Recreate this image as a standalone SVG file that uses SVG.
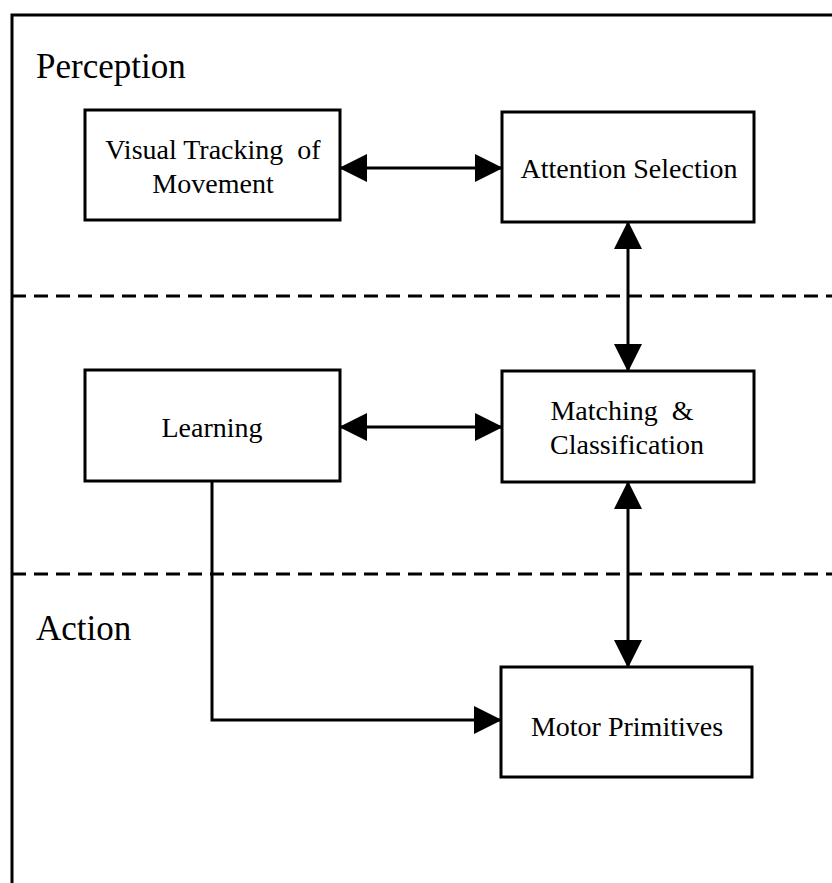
<svg xmlns="http://www.w3.org/2000/svg" width="832" height="883" viewBox="0 0 832 883">
  <style>
    .box { fill: #fff; stroke: #000; stroke-width: 3; }
    .lbl { font-family: "Liberation Serif", "Times New Roman", serif; font-size: 28px; fill: #000; text-anchor: middle; white-space: pre; }
    .zone { font-family: "Liberation Serif", "Times New Roman", serif; font-size: 35px; fill: #000; }
    .frame { fill: none; stroke: #000; stroke-width: 3; }
    .sep { fill: none; stroke: #000; stroke-width: 3; stroke-dasharray: 14 8; }
    .wire { fill: none; stroke: #000; stroke-width: 3; }
  </style>
  <defs>
    <marker id="head" markerUnits="userSpaceOnUse" markerWidth="28" markerHeight="28" refX="27" refY="14" orient="auto-start-reverse">
      <path d="M0,0 L28,14 L0,28 z" fill="#000"/>
    </marker>
  </defs>
  <rect width="832" height="883" fill="#fff"/>

  <!-- outer frame: top and left edges only -->
  <path class="frame" d="M12,883 L12,15 L832,15"/>

  <!-- layer separators -->
  <g id="separators">
    <line class="sep" x1="12" y1="296" x2="832" y2="296"/>
    <line class="sep" x1="12" y1="574" x2="832" y2="574"/>
  </g>

  <text class="zone" x="36" y="78">Perception</text>
  <text class="zone" x="36" y="640">Action</text>

  <g id="connectors">
    <line class="wire" x1="340" y1="168" x2="502" y2="168" marker-start="url(#head)" marker-end="url(#head)"/>
    <line class="wire" x1="628" y1="222" x2="628" y2="371" marker-start="url(#head)" marker-end="url(#head)"/>
    <line class="wire" x1="340" y1="427" x2="502" y2="427" marker-start="url(#head)" marker-end="url(#head)"/>
    <line class="wire" x1="628" y1="482" x2="628" y2="667" marker-start="url(#head)" marker-end="url(#head)"/>
    <path class="wire" d="M212,481 L212,720 L501,720" marker-end="url(#head)"/>
  </g>

  <g id="visual-tracking">
    <rect class="box" x="85" y="110" width="255" height="110"/>
    <text class="lbl" x="213" y="159" xml:space="preserve">Visual Tracking  of</text>
    <text class="lbl" x="213" y="193">Movement</text>
  </g>

  <g id="attention-selection">
    <rect class="box" x="502" y="112" width="252" height="110"/>
    <text class="lbl" x="629" y="178">Attention Selection</text>
  </g>

  <g id="learning">
    <rect class="box" x="85" y="370" width="255" height="111"/>
    <text class="lbl" x="212" y="437">Learning</text>
  </g>

  <g id="matching-classification">
    <rect class="box" x="502" y="371" width="252" height="111"/>
    <text class="lbl" x="622" y="420" xml:space="preserve">Matching  &amp;</text>
    <text class="lbl" x="627" y="454">Classification</text>
  </g>

  <g id="motor-primitives">
    <rect class="box" x="501" y="667" width="251" height="110"/>
    <text class="lbl" x="627" y="736">Motor Primitives</text>
  </g>
</svg>
